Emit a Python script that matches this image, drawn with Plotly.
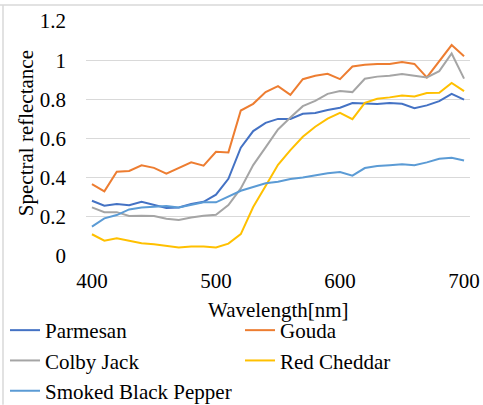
import plotly.graph_objects as go

wavelength = [400, 410, 420, 430, 440, 450, 460, 470, 480, 490, 500, 510, 520, 530, 540, 550,
              560, 570, 580, 590, 600, 610, 620, 630, 640, 650, 660, 670, 680, 690, 700]

parmesan = [0.282, 0.257, 0.265, 0.259, 0.277, 0.262, 0.245, 0.248, 0.265, 0.277, 0.313, 0.394,
            0.553, 0.638, 0.680, 0.700, 0.700, 0.726, 0.730, 0.746, 0.757, 0.781, 0.777, 0.776,
            0.781, 0.777, 0.755, 0.769, 0.791, 0.828, 0.798]
gouda = [0.367, 0.330, 0.430, 0.434, 0.463, 0.450, 0.420, 0.450, 0.478, 0.461, 0.532, 0.529,
         0.743, 0.777, 0.837, 0.867, 0.823, 0.903, 0.920, 0.930, 0.903, 0.968, 0.976, 0.980,
         0.981, 0.990, 0.981, 0.912, 0.995, 1.077, 1.020]
colby_jack = [0.248, 0.224, 0.224, 0.204, 0.206, 0.204, 0.190, 0.184, 0.197, 0.206, 0.211, 0.260,
              0.345, 0.464, 0.555, 0.646, 0.707, 0.765, 0.792, 0.828, 0.843, 0.837, 0.905, 0.916,
              0.920, 0.929, 0.920, 0.912, 0.944, 1.034, 0.906]
red_cheddar = [0.111, 0.078, 0.090, 0.077, 0.065, 0.060, 0.051, 0.044, 0.049, 0.049, 0.044, 0.063,
               0.112, 0.250, 0.357, 0.466, 0.541, 0.609, 0.660, 0.701, 0.731, 0.699, 0.782, 0.803,
               0.810, 0.820, 0.815, 0.832, 0.833, 0.884, 0.842]
smoked_black_pepper = [0.150, 0.192, 0.209, 0.238, 0.248, 0.252, 0.255, 0.248, 0.262, 0.274, 0.274,
                       0.303, 0.333, 0.352, 0.371, 0.379, 0.393, 0.401, 0.413, 0.422, 0.429, 0.410,
                       0.449, 0.459, 0.464, 0.469, 0.463, 0.478, 0.497, 0.502, 0.488]

# (name, values, colour, legend column)
series = [
    ("Parmesan", parmesan, "#4472C4", "legend"),
    ("Gouda", gouda, "#ED7D31", "legend2"),
    ("Colby Jack", colby_jack, "#A5A5A5", "legend"),
    ("Red Cheddar", red_cheddar, "#FFC000", "legend2"),
    ("Smoked Black Pepper", smoked_black_pepper, "#5B9BD5", "legend"),
]

x_title = "Wavelength[nm]"
y_title = "Spectral reflectance"

FONT = "Liberation Serif"

fig = go.Figure()
for name, vals, color, leg in series:
    fig.add_trace(go.Scatter(x=wavelength, y=vals, mode="lines", name=name, legend=leg,
                             line=dict(color=color, width=2)))

legend_common = dict(orientation="v", xref="container", yref="container", xanchor="left",
                     yanchor="top", y=(405 - 310) / 405, itemwidth=30,
                     font=dict(family=FONT, size=21), bgcolor="rgba(0,0,0,0)",
                     tracegroupgap=0)

fig.update_layout(
    width=483, height=405,
    margin=dict(l=86, r=13, t=21, b=149, autoexpand=False),
    paper_bgcolor="white", plot_bgcolor="white",
    font=dict(family=FONT, size=21, color="#000000"),
    showlegend=True,
    legend=dict(x=5 / 483, **legend_common),
    legend2=dict(x=240 / 483, **legend_common),
    xaxis=dict(range=[395.2, 704.8], tickvals=[400, 500, 600, 700], showgrid=False,
               zeroline=False, showline=False, ticks="", ticklabelstandoff=10),
    yaxis=dict(range=[0, 1.2], dtick=0.2, tick0=0, showgrid=True, gridcolor="#D9D9D9",
               gridwidth=1, zeroline=False, showline=False, ticks="", ticklabelstandoff=19),
)

fig.add_annotation(text=x_title, xref="paper", yref="paper", x=0.5, y=-54 / 235.3,
                   xanchor="center", yanchor="middle", showarrow=False,
                   font=dict(family=FONT, size=21))
fig.add_annotation(text=y_title, xref="paper", yref="paper", x=-60 / 384, y=123 / 235.3,
                   xanchor="center", yanchor="middle", textangle=-90, showarrow=False,
                   font=dict(family=FONT, size=21))

# chart border fragments visible at top and left edges
fig.add_shape(type="line", xref="paper", yref="paper", x0=-86/384, x1=1.1, y0=1 + 16/235.3,
              y1=1 + 16/235.3, line=dict(color="#D9D9D9", width=1.5))
fig.add_shape(type="line", xref="paper", yref="paper", x0=-83/384, x1=-83/384, y0=1 + 16/235.3,
              y1=-149/235.3, line=dict(color="#D9D9D9", width=1.5))

fig.write_html("out.html")
